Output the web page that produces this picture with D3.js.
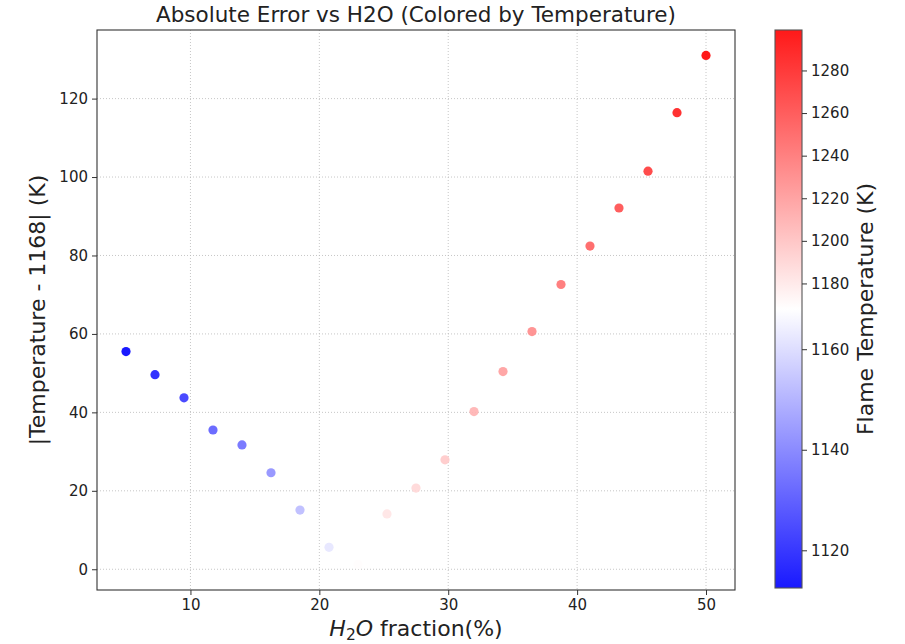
<!DOCTYPE html>
<html>
<head>
<meta charset="utf-8">
<script src="https://cdn.jsdelivr.net/npm/d3@7"></script>
<style>
  body { margin: 0; background: #fff; }
  svg text { font-family: "DejaVu Sans", sans-serif; fill: #222; }
</style>
</head>
<body>
<svg width="905" height="644"></svg>
<script>
// H2O fraction (%) for each run
const h2o = [5, 7.25, 9.5, 11.75, 14, 16.25, 18.5, 20.75, 23, 25.25, 27.5,
  29.75, 32, 34.25, 36.5, 38.75, 41, 43.25, 45.5, 47.75, 50];
// flame temperature (K) for each run
const temperature = [1112.5, 1118.4, 1124.3, 1132.5, 1136.3, 1143.4, 1152.9, 1162.4,
  1169.2, 1182.1, 1188.7, 1195.9, 1208.2, 1218.4, 1228.6, 1240.6, 1250.4, 1260.1,
  1269.5, 1284.4, 1299.0];
const reference = 1168;
const xTicks = [10, 20, 30, 40, 50];
const yTicks = [0, 20, 40, 60, 80, 100, 120];
const cbTicks = [1120, 1140, 1160, 1180, 1200, 1220, 1240, 1260, 1280];

const points = h2o.map((x, i) => ({
  x: x,
  t: temperature[i],
  err: Math.abs(temperature[i] - reference)
}));

const svg = d3.select("svg");
const plot = { left: 97, right: 735, top: 30, bottom: 590 };
const tickFont = "15px";
const labelFont = "22px";

// matplotlib style 5% padding
function padded(ext) {
  const d = (ext[1] - ext[0]) * 0.05;
  return [ext[0] - d, ext[1] + d];
}

const x = d3.scaleLinear()
  .domain(padded(d3.extent(points, d => d.x)))
  .range([plot.left, plot.right]);

const y = d3.scaleLinear()
  .domain(padded(d3.extent(points, d => d.err)))
  .range([plot.bottom, plot.top]);

// bwr colormap (linear blue-white-red) with a two slope norm centred on the reference
const bwr = d3.piecewise(d3.interpolateRgb, ["#0000ff", "#ffffff", "#ff0000"]);
const tMin = d3.min(temperature), tMax = d3.max(temperature);
const color = d3.scaleDiverging()
  .domain([tMin, reference, tMax])
  .interpolator(bwr);

// grid
const grid = svg.append("g").attr("stroke", "#b8b8b8").attr("stroke-width", 0.8)
  .attr("stroke-dasharray", "1,2");
grid.selectAll(".gx").data(xTicks).join("line")
  .attr("x1", d => x(d)).attr("x2", d => x(d))
  .attr("y1", plot.top).attr("y2", plot.bottom);
grid.selectAll(".gy").data(yTicks).join("line")
  .attr("x1", plot.left).attr("x2", plot.right)
  .attr("y1", d => y(d)).attr("y2", d => y(d));

// points
svg.append("g").selectAll("circle").data(points).join("circle")
  .attr("cx", d => x(d.x))
  .attr("cy", d => y(d.err))
  .attr("r", 4.6)
  .attr("fill", d => color(d.t))
  .attr("fill-opacity", 0.9);

// frame
svg.append("rect")
  .attr("x", plot.left).attr("y", plot.top)
  .attr("width", plot.right - plot.left).attr("height", plot.bottom - plot.top)
  .attr("fill", "none").attr("stroke", "#333").attr("stroke-width", 1.1);

// axes
const xAxis = svg.append("g")
  .attr("transform", `translate(0, ${plot.bottom})`)
  .call(d3.axisBottom(x).tickValues(xTicks).tickSize(5).tickPadding(4).tickSizeOuter(0));
const yAxis = svg.append("g")
  .attr("transform", `translate(${plot.left}, 0)`)
  .call(d3.axisLeft(y).tickValues(yTicks).tickSize(5).tickPadding(4).tickSizeOuter(0));
[xAxis, yAxis].forEach(a => {
  a.select(".domain").remove();
  a.selectAll(".tick line").attr("stroke", "#333");
  a.selectAll(".tick text").style("font-size", tickFont).style("font-family", "DejaVu Sans").attr("fill", "#222");
});

// title
svg.append("text")
  .attr("x", (plot.left + plot.right) / 2)
  .attr("y", 22)
  .attr("text-anchor", "middle")
  .style("font-size", "21.5px")
  .text("Absolute Error vs H2O (Colored by Temperature)");

// x label with subscript
const xl = svg.append("text")
  .attr("x", (plot.left + plot.right) / 2)
  .attr("y", 636)
  .attr("text-anchor", "middle")
  .style("font-size", labelFont);
xl.append("tspan").attr("font-style", "italic").text("H");
xl.append("tspan").attr("dy", 4).style("font-size", "15.5px").text("2");
xl.append("tspan").attr("dy", -4).attr("font-style", "italic").text("O");
xl.append("tspan").text(" fraction(%)");

// y label
svg.append("text")
  .attr("transform", `translate(45, ${(plot.top + plot.bottom) / 2}) rotate(-90)`)
  .attr("text-anchor", "middle")
  .style("font-size", labelFont)
  .text("|Temperature - 1168| (K)");

// colorbar
const cb = { left: 775, right: 802, top: 30, bottom: 588 };
const cbScale = d3.scaleLinear()
  .domain([tMin, reference, tMax])
  .range([cb.bottom, (cb.top + cb.bottom) / 2, cb.top]);

const defs = svg.append("defs");
const grad = defs.append("linearGradient")
  .attr("id", "cbgrad").attr("x1", 0).attr("x2", 0).attr("y1", 1).attr("y2", 0);
[0, 0.5, 1].forEach(s => {
  grad.append("stop").attr("offset", s).attr("stop-color", bwr(s));
});
svg.append("rect")
  .attr("x", cb.left).attr("y", cb.top)
  .attr("width", cb.right - cb.left).attr("height", cb.bottom - cb.top)
  .attr("fill", "url(#cbgrad)").attr("fill-opacity", 0.9)
  .attr("stroke", "#555").attr("stroke-width", 1.1);

const cbAxis = svg.append("g")
  .attr("transform", `translate(${cb.right}, 0)`)
  .call(d3.axisRight(cbScale).tickValues(cbTicks).tickFormat(d3.format("d"))
    .tickSize(5).tickPadding(4).tickSizeOuter(0));
cbAxis.select(".domain").remove();
cbAxis.selectAll(".tick line").attr("stroke", "#333");
cbAxis.selectAll(".tick text").style("font-size", tickFont).attr("fill", "#222");

svg.append("text")
  .attr("transform", `translate(873, ${(cb.top + cb.bottom) / 2}) rotate(-90)`)
  .attr("text-anchor", "middle")
  .style("font-size", labelFont)
  .text("Flame Temperature (K)");
</script>
</body>
</html>
